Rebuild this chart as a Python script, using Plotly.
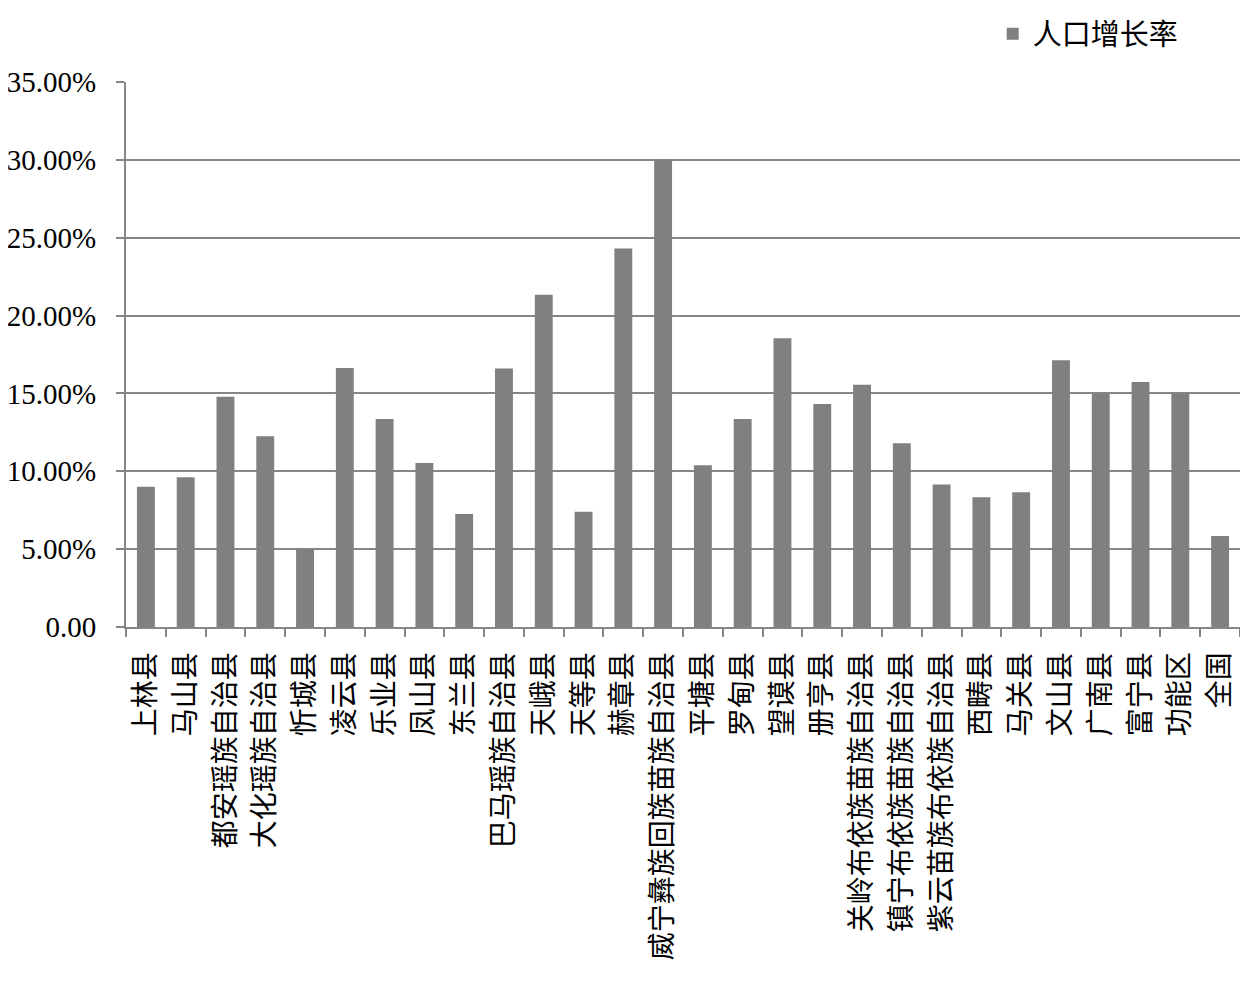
import plotly.graph_objects as go

categories = ["上林县", "马山县", "都安瑶族自治县", "大化瑶族自治县", "忻城县", "凌云县", "乐业县",
              "凤山县", "东兰县", "巴马瑶族自治县", "天峨县", "天等县", "赫章县", "威宁彝族回族苗族自治县",
              "平塘县", "罗甸县", "望谟县", "册亨县", "关岭布依族苗族自治县", "镇宁布依族苗族自治县",
              "紫云苗族布依族自治县", "西畴县", "马关县", "文山县", "广南县", "富宁县", "功能区", "全国"]
growth = [9.0, 9.62, 14.79, 12.25, 5.0, 16.64, 13.36, 10.53, 7.25, 16.6, 21.34, 7.4, 24.3, 30.0,
          10.38, 13.36, 18.54, 14.32, 15.55, 11.8, 9.15, 8.34, 8.66, 17.13, 15.0, 15.73, 15.0, 5.85]
series_name = "人口增长率"
y_tickvals = [0, 5, 10, 15, 20, 25, 30, 35]
y_ticktext = ["0.00", "5.00%", "10.00%", "15.00%", "20.00%", "25.00%", "30.00%", "35.00%"]

GRAY = "#868686"
FONT = "Liberation Serif, Noto Sans CJK SC"

fig = go.Figure()
fig.add_trace(go.Bar(x=categories, y=growth, name=series_name,
                     marker=dict(color="#808080", line=dict(width=0)),
                     showlegend=True))

fig.update_layout(
    width=1232, height=978, autosize=False,
    margin=dict(l=118, r=0, t=74, b=359, autoexpand=False),
    paper_bgcolor="white", plot_bgcolor="white",
    bargap=0.55,
    font=dict(family=FONT, color="black", size=26),
    showlegend=True,
    legend=dict(x=0.778, y=1.135, xanchor="left", yanchor="top",
                orientation="v", bgcolor="rgba(0,0,0,0)", tracegroupgap=0,
                font=dict(family="Noto Sans CJK SC, Liberation Serif", size=29, color="black")),
)
fig.update_xaxes(
    type="category", showline=True, linecolor=GRAY, linewidth=2,
    ticks="outside", tickson="boundaries", ticklen=8, tickcolor=GRAY, tickwidth=2,
    tickangle=-90, tickfont=dict(family="Noto Sans CJK SC", size=28, color="black"),
    showgrid=False, zeroline=False, ticklabelstandoff=12,
)
fig.update_yaxes(
    range=[0, 35], tickvals=y_tickvals, ticktext=y_ticktext,
    showline=True, linecolor=GRAY, linewidth=2,
    ticks="outside", ticklen=8, tickcolor=GRAY, tickwidth=2,
    showgrid=True, gridcolor=GRAY, gridwidth=2, zeroline=False,
    tickfont=dict(family="Liberation Serif", size=29, color="black"),
    ticklabelstandoff=14,
)

fig.write_html("out.html")
